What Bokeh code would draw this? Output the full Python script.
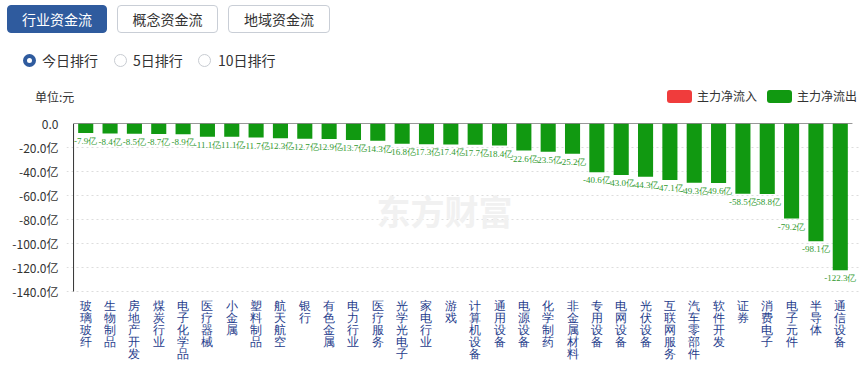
from bokeh.plotting import figure
from bokeh.models import (Range1d, FixedTicker, Label, LabelSet, ColumnDataSource, FactorRange, Div)
from bokeh.layouts import column
from bokeh.embed import file_html
from bokeh.resources import INLINE

# ---------------- data ----------------
categories = ["玻璃玻纤", "生物制品", "房地产开发", "煤炭行业", "电子化学品", "医疗器械", "小金属",
              "塑料制品", "航天航空", "银行", "有色金属", "电力行业", "医疗服务", "光学光电子",
              "家电行业", "游戏", "计算机设备", "通用设备", "电源设备", "化学制药", "非金属材料",
              "专用设备", "电网设备", "光伏设备", "互联网服务", "汽车零部件", "软件开发", "证券",
              "消费电子", "电子元件", "半导体", "通信设备"]
values = [-7.9, -8.4, -8.5, -8.7, -8.9, -11.1, -11.1, -11.7, -12.3, -12.7, -12.9, -13.7, -14.3,
          -16.8, -17.3, -17.4, -17.7, -18.4, -22.6, -23.5, -25.2, -40.6, -43.0, -44.3, -47.1,
          -49.3, -49.6, -58.5, -58.8, -79.2, -98.1, -122.3]
bar_labels = ["%.1f亿" % v for v in values]
y_ticks = [0, -20, -40, -60, -80, -100, -120, -140]
y_tick_labels = ["0.0", "-20.0亿", "-40.0亿", "-60.0亿", "-80.0亿", "-100.0亿", "-120.0亿", "-140.0亿"]
tabs = ["行业资金流", "概念资金流", "地域资金流"]
radios = ["今日排行", "5日排行", "10日排行"]
legend_items = ["主力净流入", "主力净流出"]
unit_text = "单位:元"
watermark = "东方财富"

FONT = "Noto Sans CJK SC"
GREEN = "#119911"
RED = "#f03c3c"
BLUE = "#2f5b9e"

W = 859
HDR_H = 110
CH_H = 254

# ---------------- header (HTML) ----------------
def box(l, t, w, h, style, inner=""):
    return ('<div style="position:absolute;left:%spx;top:%spx;width:%spx;height:%spx;'
            'box-sizing:border-box;%s">%s</div>' % (l, t, w, h, style, inner))

parts = []
tab_l = [7, 117, 228]
tab_w = [100, 101, 102]
for i, t in enumerate(tabs):
    if i == 0:
        st = "background:%s;border:1px solid %s;color:#fff;" % (BLUE, BLUE)
    else:
        st = "background:#fff;border:1px solid #c9ced6;color:#333;"
    st += "border-radius:4px;font-size:14px;line-height:26px;text-align:center;"
    parts.append(box(tab_l[i], 5, tab_w[i], 28, st, t))
radio_l = [23, 114, 198]
radio_tx = [42, 133, 218]
for i, t in enumerate(radios):
    if i == 0:
        st = "border-radius:50%%;border:4px solid %s;background:#fff;" % BLUE
    else:
        st = "border-radius:50%;border:1px solid #c8ccd2;background:#fff;"
    parts.append(box(radio_l[i], 53.5, 13, 13, st))
    parts.append(box(radio_tx[i], 50, 80, 20, "font-size:14px;line-height:20px;color:#333;"
                     "white-space:nowrap;", t))
parts.append(box(35, 88, 60, 18, "font-size:12px;line-height:18px;color:#333;white-space:nowrap;",
                 unit_text))
leg_l = [667, 767]
for i, c in enumerate([RED, GREEN]):
    parts.append(box(leg_l[i], 89.5, 25, 13, "background:%s;border-radius:3px;" % c))
    parts.append(box(leg_l[i] + 30, 87, 70, 18, "font-size:12px;line-height:18px;color:#333;"
                     "white-space:nowrap;", legend_items[i]))
html = ('<div style="position:relative;width:%dpx;height:%dpx;font-family:\'%s\';">%s</div>'
        % (W, HDR_H, FONT, "".join(parts)))
header = Div(text=html, width=W, height=HDR_H, margin=0)

# ---------------- chart ----------------
X0, Y0 = 73, 123                 # page position of the first band's left edge / zero line
FT = Y0 - HDR_H                  # frame top border inside the chart canvas
n = len(categories)
frame_w = W - (X0 - 7)
pad_u = 0.29
band = frame_w / (n + 2 * pad_u)
YMIN = y_ticks[-1]
ypx = 168 / (0 - YMIN)
y_lo = -(CH_H - FT) / ypx


def sx(px):
    return (px - X0) / band


def sy(py):
    return -(py - Y0) / ypx


p = figure(x_range=FactorRange(factors=categories, range_padding=pad_u,
                               range_padding_units="absolute"),
           y_range=Range1d(y_lo, 0),
           width=W, height=CH_H, min_border_left=X0 - round(pad_u * band), min_border_right=0,
           min_border_top=FT, min_border_bottom=0, x_axis_location=None,
           output_backend="svg", toolbar_location=None, outline_line_color=None, margin=0)

p.add_layout(Label(x=sx(376), y=sy(210), text=watermark, text_font=FONT, text_font_size="34px",
                   text_font_style="bold", text_color="#f1f1f1", text_baseline="middle",
                   text_align="left", level="underlay"))

src = ColumnDataSource(dict(cat=categories, val=values, lbl=bar_labels,
                            lbl_y=[v - 3 / ypx for v in values]))
p.vbar(x="cat", top=0, bottom="val", width=0.62, source=src, fill_color=GREEN, line_color=None)
p.add_layout(LabelSet(x="cat", y="lbl_y", text="lbl", source=src, text_font=FONT,
                      text_font_size="9px", text_align="center", text_baseline="top",
                      text_color="#2f9a2f"))

# zero line and value-axis line
p.segment(x0=[0, 0], y0=[0, 0], x1=[n, 0], y1=[0, YMIN], line_color="#333333", line_width=1)

# vertical category labels (one character per line)
ch_x, ch_t, ch_y = [], [], []
for c in categories:
    for j, ch in enumerate(c):
        ch_x.append(c)
        ch_t.append(ch)
        ch_y.append(sy(298 + j * 12.1))
p.add_layout(LabelSet(x="x", y="y", text="t", source=ColumnDataSource(dict(x=ch_x, y=ch_y, t=ch_t)),
                      text_font=FONT, text_font_size="12px", text_align="center",
                      text_baseline="top", text_color="#1e3c8c"))

p.xgrid.visible = False
p.ygrid.ticker = FixedTicker(ticks=y_ticks[1:])
p.ygrid.grid_line_color = "#dddddd"
p.ygrid.grid_line_dash = "2 3"

p.yaxis.ticker = FixedTicker(ticks=y_ticks)
p.yaxis.bounds = (YMIN, 0)
p.yaxis.major_label_overrides = {t: l for t, l in zip(y_ticks, y_tick_labels)}
p.yaxis.axis_line_color = None
p.yaxis.major_tick_line_color = None
p.yaxis.minor_tick_line_color = None
p.yaxis.major_label_standoff = 2
p.yaxis.major_label_text_font = FONT
p.yaxis.major_label_text_font_size = "12px"
p.yaxis.major_label_text_color = "#333333"

layout = column(header, p, spacing=0)
open("out.html", "w").write(file_html(layout, INLINE))
